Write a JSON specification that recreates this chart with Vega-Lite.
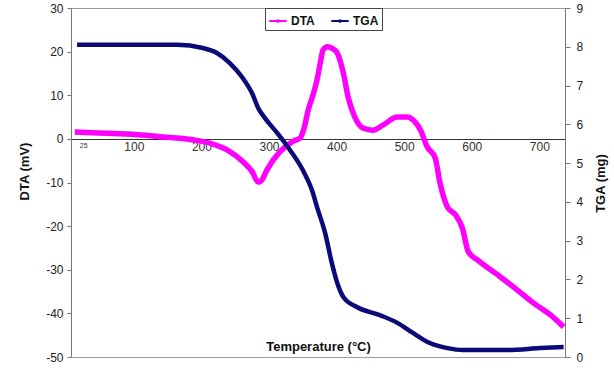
{
  "$schema": "https://vega.github.io/schema/vega-lite/v6.json",
  "autosize": "none",
  "width": 494,
  "height": 349,
  "padding": {"left": 71, "top": 8, "right": 49, "bottom": 14},
  "background": "white",
  "config": {
    "view": {"stroke": "#9a9a9a", "strokeWidth": 1},
    "font": "Liberation Sans",
    "axis": {"grid": false, "labelFont": "Liberation Sans", "titleFont": "Liberation Sans", "labelColor": "#222", "titleColor": "#111", "domainColor": "#777", "tickColor": "#777"}
  },
  "data": {
    "values": [
      {"T": 12.6, "v": 1.6, "series": "DTA"},
      {"T": 39, "v": 1.4, "series": "DTA"},
      {"T": 90, "v": 1.1, "series": "DTA"},
      {"T": 138, "v": 0.5, "series": "DTA"},
      {"T": 187, "v": -0.2, "series": "DTA"},
      {"T": 213, "v": -1, "series": "DTA"},
      {"T": 238, "v": -2.5, "series": "DTA"},
      {"T": 262, "v": -5.3, "series": "DTA"},
      {"T": 275, "v": -7.5, "series": "DTA"},
      {"T": 284, "v": -9.9, "series": "DTA"},
      {"T": 290, "v": -9.3, "series": "DTA"},
      {"T": 297, "v": -7.1, "series": "DTA"},
      {"T": 316, "v": -3, "series": "DTA"},
      {"T": 336, "v": -0.5, "series": "DTA"},
      {"T": 346, "v": 0.2, "series": "DTA"},
      {"T": 352, "v": 2.5, "series": "DTA"},
      {"T": 358, "v": 6.6, "series": "DTA"},
      {"T": 365, "v": 10, "series": "DTA"},
      {"T": 371, "v": 13.5, "series": "DTA"},
      {"T": 376, "v": 17.5, "series": "DTA"},
      {"T": 380, "v": 20.4, "series": "DTA"},
      {"T": 387, "v": 21.1, "series": "DTA"},
      {"T": 395, "v": 20.6, "series": "DTA"},
      {"T": 401, "v": 19.7, "series": "DTA"},
      {"T": 410, "v": 15.1, "series": "DTA"},
      {"T": 417, "v": 9.6, "series": "DTA"},
      {"T": 427, "v": 5, "series": "DTA"},
      {"T": 439, "v": 2.5, "series": "DTA"},
      {"T": 454, "v": 2, "series": "DTA"},
      {"T": 469, "v": 3.2, "series": "DTA"},
      {"T": 490, "v": 5, "series": "DTA"},
      {"T": 504, "v": 5, "series": "DTA"},
      {"T": 516, "v": 3.9, "series": "DTA"},
      {"T": 524, "v": 2.1, "series": "DTA"},
      {"T": 534, "v": -1.8, "series": "DTA"},
      {"T": 546, "v": -4.4, "series": "DTA"},
      {"T": 553, "v": -10.1, "series": "DTA"},
      {"T": 564, "v": -15.6, "series": "DTA"},
      {"T": 576, "v": -17.4, "series": "DTA"},
      {"T": 586, "v": -20.4, "series": "DTA"},
      {"T": 595, "v": -25.9, "series": "DTA"},
      {"T": 608, "v": -27.7, "series": "DTA"},
      {"T": 642, "v": -31.6, "series": "DTA"},
      {"T": 667, "v": -34.6, "series": "DTA"},
      {"T": 691, "v": -37.6, "series": "DTA"},
      {"T": 716, "v": -40.3, "series": "DTA"},
      {"T": 736, "v": -43.1, "series": "DTA"},
      {"T": 16, "v": 8.05, "series": "TGA"},
      {"T": 90, "v": 8.05, "series": "TGA"},
      {"T": 164, "v": 8.05, "series": "TGA"},
      {"T": 202, "v": 7.97, "series": "TGA"},
      {"T": 223, "v": 7.84, "series": "TGA"},
      {"T": 242, "v": 7.58, "series": "TGA"},
      {"T": 260, "v": 7.22, "series": "TGA"},
      {"T": 275, "v": 6.8, "series": "TGA"},
      {"T": 284, "v": 6.42, "series": "TGA"},
      {"T": 294, "v": 6.16, "series": "TGA"},
      {"T": 312, "v": 5.78, "series": "TGA"},
      {"T": 331, "v": 5.34, "series": "TGA"},
      {"T": 350, "v": 4.82, "series": "TGA"},
      {"T": 365, "v": 4.23, "series": "TGA"},
      {"T": 371, "v": 3.87, "series": "TGA"},
      {"T": 383, "v": 3.2, "series": "TGA"},
      {"T": 393, "v": 2.42, "series": "TGA"},
      {"T": 401, "v": 1.91, "series": "TGA"},
      {"T": 410, "v": 1.55, "series": "TGA"},
      {"T": 430, "v": 1.29, "series": "TGA"},
      {"T": 464, "v": 1.08, "series": "TGA"},
      {"T": 490, "v": 0.88, "series": "TGA"},
      {"T": 513, "v": 0.62, "series": "TGA"},
      {"T": 538, "v": 0.36, "series": "TGA"},
      {"T": 564, "v": 0.23, "series": "TGA"},
      {"T": 587, "v": 0.18, "series": "TGA"},
      {"T": 653, "v": 0.18, "series": "TGA"},
      {"T": 701, "v": 0.23, "series": "TGA"},
      {"T": 736, "v": 0.26, "series": "TGA"}
    ]
  },
  "encoding": {
    "x": {
      "field": "T",
      "type": "quantitative",
      "scale": {"domain": [7, 738], "nice": false, "zero": false},
      "axis": {
        "title": "Temperature (°C)",
        "values": [25, 100, 200, 300, 400, 500, 600, 700],
        "offset": -218,
        "ticks": false,
        "labelPadding": 2,
        "labelFontSize": {"expr": "datum.value == 25 ? 7 : 12"},
        "labelColor": "#333",
        "domainColor": "#333",
        "titleFontSize": 13,
        "titleFontWeight": "bold",
        "titleY": 211,
        "titleBaseline": "alphabetic"
      }
    },
    "color": {
      "field": "series",
      "type": "nominal",
      "scale": {"domain": ["DTA", "TGA"], "range": ["#ff00ff", "#0a0a78"]},
      "legend": {
        "title": null,
        "orient": "none",
        "legendX": 194,
        "legendY": 0,
        "direction": "horizontal",
        "strokeColor": "#444",
        "fillColor": "white",
        "padding": 3,
        "columnPadding": 12,
        "labelFontSize": 12,
        "labelFontWeight": "bold",
        "labelColor": "#111",
        "symbolType": "M-1,0H1M-0.1,0A0.1,0.1 0 1,0 0.1,0A0.1,0.1 0 1,0 -0.1,0",
        "symbolSize": 300,
        "symbolStrokeWidth": 2,
        "labelOffset": 3
      }
    }
  },
  "layer": [
    {
      "transform": [{"filter": "datum.series == 'DTA'"}],
      "mark": {"type": "line", "strokeWidth": 5.5, "interpolate": "monotone"},
      "encoding": {
        "y": {
          "field": "v",
          "type": "quantitative",
          "scale": {"domain": [-50, 30], "nice": false},
          "axis": {
            "title": "DTA (mV)",
            "values": [-50, -40, -30, -20, -10, 0, 10, 20, 30],
            "labelExpr": "'' + datum.value",
            "labelFontSize": 12,
            "tickSize": 4,
            "labelPadding": 4,
            "titleFontSize": 13,
            "titleFontWeight": "bold",
            "titleX": -47,
            "titleY": 163,
            "titleAngle": -90,
            "titleBaseline": "middle",
            "titleAlign": "center"
          }
        }
      }
    },
    {
      "transform": [{"filter": "datum.series == 'TGA'"}],
      "mark": {"type": "line", "strokeWidth": 4.5, "interpolate": "monotone"},
      "encoding": {
        "y": {
          "field": "v",
          "type": "quantitative",
          "scale": {"domain": [0, 9], "nice": false},
          "axis": {
            "orient": "right",
            "title": "TGA (mg)",
            "values": [0, 1, 2, 3, 4, 5, 6, 7, 8, 9],
            "labelFontSize": 12,
            "tickSize": 5,
            "labelPadding": 6,
            "titleFontSize": 13,
            "titleFontWeight": "bold",
            "titleX": 35,
            "titleY": 175,
            "titleAngle": -90,
            "titleBaseline": "middle",
            "titleAlign": "center"
          }
        }
      }
    }
  ],
  "resolve": {"scale": {"y": "independent"}}
}
